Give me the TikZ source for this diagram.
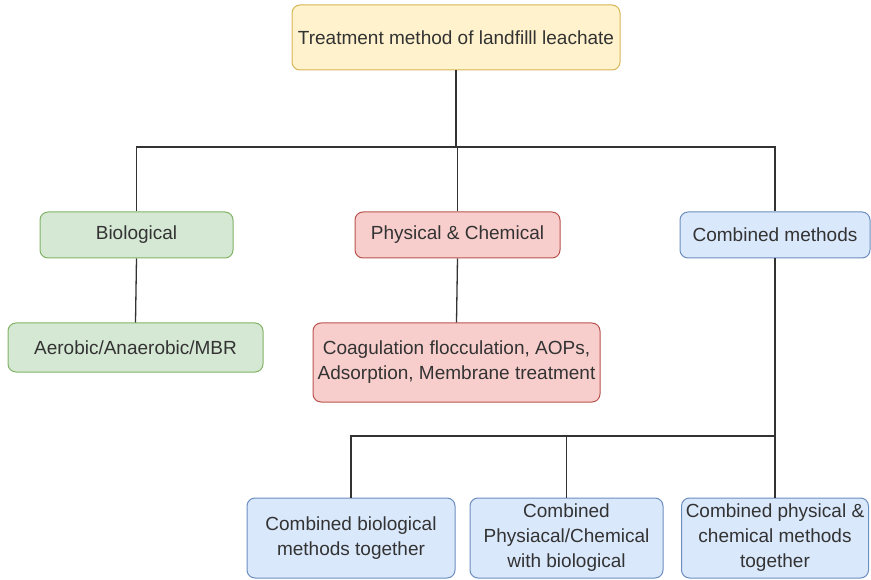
\documentclass[tikz,border=0pt]{standalone}
\usepackage{fontspec}
\setmainfont{Liberation Sans}
\usetikzlibrary{positioning}

\definecolor{yelfill}{HTML}{FFF2CC}
\definecolor{yeldraw}{HTML}{D6B656}
\definecolor{grnfill}{HTML}{D5E8D4}
\definecolor{grndraw}{HTML}{82B366}
\definecolor{redfill}{HTML}{F8CECC}
\definecolor{reddraw}{HTML}{B85450}
\definecolor{blufill}{HTML}{DAE8FC}
\definecolor{bludraw}{HTML}{6C8EBF}
\definecolor{linegray}{HTML}{333333}

\tikzset{
  box/.style={draw, rounded corners=8pt, line width=1pt, align=center,
    text=linegray, font=\fontsize{19}{25}\selectfont, inner sep=2pt},
  yelbox/.style={box, fill=yelfill, draw=yeldraw},
  grnbox/.style={box, fill=grnfill, draw=grndraw},
  redbox/.style={box, fill=redfill, draw=reddraw},
  blubox/.style={box, fill=blufill, draw=bludraw},
  wire/.style={linegray, line width=1.3pt}
}

\begin{document}
\begin{tikzpicture}[x=1pt,y=-1pt]

\useasboundingbox (0,0) rectangle (871,580);

%%%%%
%% top level
%%%%%
\node[yelbox, minimum width=328pt, minimum height=65pt] (Top) at (456,37.5) {Treatment method of landfilll leachate};

%%%%%
%% second level
%%%%%
\node[grnbox, minimum width=193pt, minimum height=46pt] (Bio) at (136.5,235) {Biological};
\node[redbox, minimum width=205pt, minimum height=46pt] (Phys) at (457.5,235) {Physical \& Chemical};
\node[blubox, minimum width=190pt, minimum height=46pt] (Comb) at (775,235) {Combined methods};

\node[grnbox, minimum width=255pt, minimum height=49pt] (Aer) at (135.5,347.5) {Aerobic/Anaerobic/MBR};
\node[redbox, minimum width=287pt, minimum height=79pt] (Coag) at (456.5,362.5) {Coagulation flocculation, AOPs,\\Adsorption, Membrane treatment};

%%%%%
%% combined branch
%%%%%
\node[blubox, minimum width=208pt, minimum height=80pt] (CombA) at (351,538) {Combined biological\\methods together};
\node[blubox, minimum width=193pt, minimum height=80pt] (CombB) at (566.5,538) {Combined\\Physiacal/Chemical\\with biological};
\node[blubox, minimum width=187pt, minimum height=80pt] (CombC) at (775,538) {Combined physical \&\\chemical methods\\together};

\coordinate (Bus) at (0,147);
\coordinate (LowBus) at (0,436);

\draw[wire] (Top.south) -- (Top.south |- Bus);
\draw[wire] (Bio.north) -- (Bio.north |- Bus) -- (Comb.north |- Bus) -- (Comb.north);
\draw[wire] (Phys.north) -- (Phys.north |- Bus);

\draw[wire] (Bio.south) -- (Aer.north);
\draw[wire] (Phys.south) -- (Coag.north);

\draw[wire] (Comb.south) -- (CombC.north);
\draw[wire] (CombA.north) -- (CombA.north |- LowBus) -- (Comb.south |- LowBus);
\draw[wire] (CombB.north) -- (CombB.north |- LowBus);

\end{tikzpicture}
\end{document}
